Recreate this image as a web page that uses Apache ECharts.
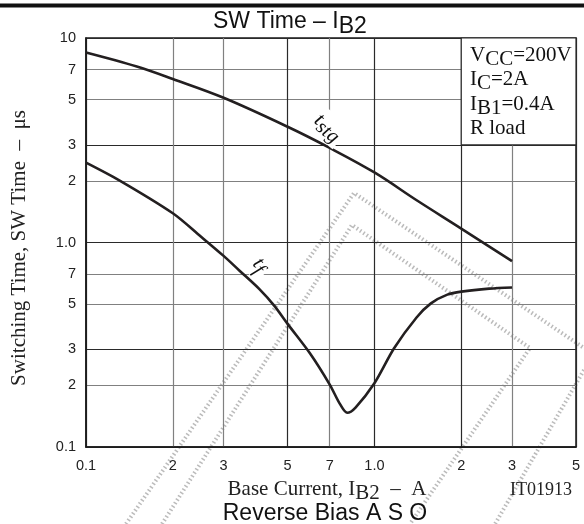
<!DOCTYPE html>
<html lang="en">
<head>
    <meta charset="UTF-8"/>
    <title>SW Time - IB2</title>
    <script src="https://cdn.jsdelivr.net/npm/echarts@6/dist/echarts.min.js"></script>
    <style>html,body{margin:0;padding:0;background:#fff;}</style>
</head>
<body>
<div id="main" style="width:584px;height:524px;"></div>

<script type="text/javascript">
    // tstg 曲线 (IB2 - A, time - us)
    var tstgCurrent = [0.1, 0.15, 0.2, 0.3, 0.5, 0.7, 1.0, 1.41, 2.0, 3.0];
    var tstgTime    = [8.49, 7.25, 6.3, 5.1, 3.68, 2.9, 2.2, 1.6, 1.17, 0.81];
    // tf 曲线
    var tfCurrent = [0.1, 0.13, 0.2, 0.25, 0.3, 0.34, 0.4, 0.45, 0.5, 0.6, 0.7, 0.76, 0.805, 0.86, 1.0, 1.17, 1.4, 1.57, 1.79, 2.0, 2.5, 3.0];
    var tfTime    = [2.46, 2.02, 1.39, 1.07, 0.86, 0.73, 0.59, 0.49, 0.40, 0.285, 0.202, 0.162, 0.147, 0.156, 0.205, 0.304, 0.43, 0.504, 0.556, 0.575, 0.595, 0.603];
    // 刻度
    var xTickValues = [0.1, 0.2, 0.3, 0.5, 0.7, 1, 2, 3, 5];
    var xTickLabels = ['0.1', '2', '3', '5', '7', '1.0', '2', '3', '5'];
    var yTickValues = [0.1, 0.2, 0.3, 0.5, 0.7, 1, 2, 3, 5, 7, 10];
    var yTickLabels = ['0.1', '2', '3', '5', '7', '1.0', '2', '3', '5', '7', '10'];

    var LG = Math.log10;
    var SANS = "'Liberation Sans', Arial, sans-serif";
    var SERIF = "'Liberation Serif', 'Times New Roman', serif";
    var DARK = '#2a2a2a', GRAY = '#808080';

    function pairs(xs, ys) {
        var out = [];
        for (var i = 0; i < xs.length; i++) out.push([LG(xs[i]), LG(ys[i])]);
        return out;
    }
    function labelOf(values, labels) {
        return function (v) {
            for (var i = 0; i < values.length; i++) {
                if (Math.abs(LG(values[i]) - v) < 1e-6) return labels[i];
            }
            return '';
        };
    }
    // 背景水印（点状菱形）
    function stipple(points) {
        return {type: 'polyline', z: -1, silent: true, shape: {points: points},
            style: {fill: null, stroke: 'rgba(60,60,60,0.35)', lineWidth: 4, lineDash: [1.5, 2.5]}};
    }

    var myChart = echarts.init(document.getElementById('main'));
    var option = {
        animation: false,
        backgroundColor: '#fff',
        grid: {left: 86, top: 38, right: 8, bottom: 77, show: true, borderColor: '#1a1a1a', borderWidth: 1.5},
        xAxis: {
            type: 'value', min: -1, max: LG(5),
            axisLine: {show: true, onZero: false, lineStyle: {color: '#1a1a1a', width: 1.5}},
            axisTick: {show: false, customValues: xTickValues.map(LG)},
            axisLabel: {customValues: xTickValues.map(LG), formatter: labelOf(xTickValues, xTickLabels),
                color: '#222', fontFamily: SANS, fontSize: 14.5, margin: 11},
            splitLine: {show: true, lineStyle: {width: 1.2,
                color: [DARK, GRAY, GRAY, DARK, GRAY, DARK, DARK, GRAY, DARK]}}
        },
        yAxis: {
            type: 'value', min: -1, max: 1,
            axisLine: {show: true, onZero: false, lineStyle: {color: '#1a1a1a', width: 1.5}},
            axisTick: {show: false, customValues: yTickValues.map(LG)},
            axisLabel: {customValues: yTickValues.map(LG), formatter: labelOf(yTickValues, yTickLabels),
                color: '#222', fontFamily: SANS, fontSize: 14.5, margin: 10},
            splitLine: {show: true, lineStyle: {width: 1.2,
                color: [DARK, GRAY, DARK, GRAY, GRAY, DARK, GRAY, DARK, GRAY, GRAY, DARK]}}
        },
        series: [
            {
                name: 'tstg', type: 'line', data: pairs(tstgCurrent, tstgTime),
                symbol: 'none', smooth: 0.35, lineStyle: {color: '#231f20', width: 2.6},
                markArea: {
                    silent: true,
                    label: {show: false},
                    itemStyle: {color: '#fff', borderColor: DARK, borderWidth: 1.2},
                    data: [[{coord: [LG(2), LG(3)]}, {coord: [LG(5), LG(10)]}]]
                }
            },
            {
                name: 'tf', type: 'line', data: pairs(tfCurrent, tfTime),
                symbol: 'none', smooth: 0.3, lineStyle: {color: '#231f20', width: 2.6}
            }
        ],
        graphic: [
            {type: 'rect', shape: {x: 0, y: 3.5, width: 584, height: 4}, style: {fill: '#111'}},
            stipple([[126, 524], [354, 193], [584, 348]]),
            stipple([[162, 524], [352, 225], [530, 348], [410, 524]]),
            stipple([[584, 370], [495, 524]]),
            {type: 'text', x: 213, y: 22, style: {
                text: 'SW Time – I{s|B2}', fill: '#111', font: '23px ' + SANS, align: 'left', verticalAlign: 'middle',
                rich: {s: {fontSize: 23, fontFamily: SANS, fill: '#111', padding: [10, 0, 0, 0]}}}},
            {type: 'text', x: 19, y: 248, rotation: Math.PI / 2, style: {
                text: 'Switching Time, SW Time  –  μs', fill: '#222', font: '21px ' + SERIF,
                align: 'center', verticalAlign: 'middle'}},
            {type: 'text', x: 327, y: 489, style: {
                text: 'Base Current, I{s|B2}  –  A', fill: '#222', font: '21px ' + SERIF,
                align: 'center', verticalAlign: 'middle',
                rich: {s: {fontSize: 21, fontFamily: SERIF, fill: '#222', padding: [9, 0, 0, 0]}}}},
            {type: 'text', x: 510, y: 490, style: {
                text: 'IT01913', fill: '#222', font: '18px ' + SERIF, align: 'left', verticalAlign: 'middle'}},
            {type: 'text', x: 325, y: 514, style: {
                text: 'Reverse Bias A S O', fill: '#111', font: '23px ' + SANS, align: 'center', verticalAlign: 'middle'}},
            {type: 'text', x: 470, y: 43, z: 10, style: {
                text: 'V{s|CC}=200V\nI{s|C}=2A\nI{s|B1}=0.4A\nR load', fill: '#111', font: '21px ' + SERIF,
                lineHeight: 24.5, align: 'left', verticalAlign: 'top',
                rich: {s: {fontSize: 21, fontFamily: SERIF, fill: '#111', padding: [8, 0, 0, 0]}}}},
            {type: 'text', x: 328, y: 127, rotation: -0.68, z: 10, style: {
                text: 't{s|stg}', fill: '#111', font: 'italic 21px ' + SERIF, align: 'center', verticalAlign: 'middle',
                backgroundColor: '#fff', padding: [0, 3],
                rich: {s: {fontSize: 20, fontStyle: 'italic', fontFamily: SERIF, fill: '#111', padding: [9, 0, 0, 0]}}}},
            {type: 'text', x: 260, y: 265, rotation: -0.85, z: 10, style: {
                text: 't{s|f}', fill: '#111', font: 'italic 21px ' + SERIF, align: 'center', verticalAlign: 'middle',
                backgroundColor: '#fff', padding: [0, 4],
                rich: {s: {fontSize: 20, fontStyle: 'italic', fontFamily: SERIF, fill: '#111', padding: [9, 0, 0, 0]}}}}
        ]
    };
    myChart.setOption(option);
</script>
</body>
</html>
